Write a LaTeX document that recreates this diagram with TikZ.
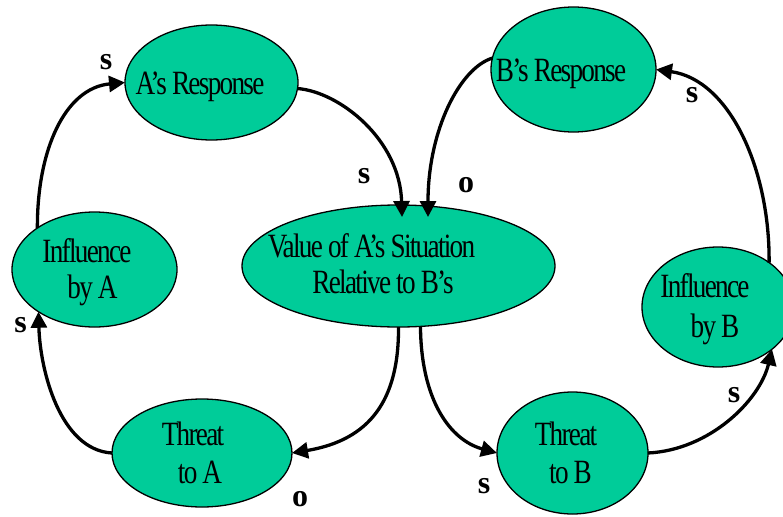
\documentclass[tikz,border=0pt]{standalone}
\usepackage{fontspec}
\usetikzlibrary{arrows.meta,shapes.geometric,calc}
\newfontfamily\nodefont[FakeStretch=0.8,LetterSpace=-5]{Liberation Serif}
\newfontfamily\labfont{Liberation Serif}
\definecolor{nodegreen}{RGB}{0,204,153}
\begin{document}
\begin{tikzpicture}[x=1pt,y=-1pt,
  blob/.style={ellipse,draw=black,line width=1.3pt,fill=nodegreen,inner sep=0pt,outer sep=0pt},
  txt/.style={anchor=base,inner sep=0pt,font=\nodefont\fontsize{34}{40}\selectfont},
  sign/.style={inner sep=0pt,font=\labfont\fontsize{32}{36}\selectfont\bfseries},
  link/.style={line width=3.3pt,-{Triangle[length=16pt,width=16pt]}}]
\useasboundingbox (0,0) rectangle (783,516);
\clip (0,0) rectangle (783,516);
% ellipses
\node[blob,minimum width=173pt,minimum height=115pt] (aresp) at (211.5,82.5) {};
\node[blob,minimum width=165pt,minimum height=125pt] (bresp) at (573.5,69.5) {};
\node[blob,minimum width=165pt,minimum height=115pt] (infA) at (94.5,269.5) {};
\node[blob,minimum width=313pt,minimum height=122pt] (val) at (398.5,266) {};
\node[blob,minimum width=180pt,minimum height=108pt] (thrA) at (202,453) {};
\node[blob,minimum width=151pt,minimum height=122pt] (thrB) at (572.5,453) {};
\node[blob,minimum width=152pt,minimum height=120pt] (infB) at (718,307) {};
% arrow tip points inside the value ellipse
\coordinate (v1) at ($(val.north)+(3.5,12)$);
\coordinate (v2) at ($(val.north)+(29.5,12)$);
% connectors
\draw[link] (infA.144) .. controls (37,150) and (65,88) .. (aresp.west);
\draw[link] (aresp.-4) .. controls (340,92) and (400,140) .. (v1);
\draw[link] (bresp.172) .. controls (460,68) and (428,130) .. (v2);
\draw[link] (infB.41) .. controls (770,170) and (730,80) .. (bresp.east);
\draw[link] (val.south) .. controls (399,400) and (370,440) .. (thrA.east);
\draw[link] (val.-70) .. controls (421,400) and (450,440) .. (thrB.west);
\draw[link] (thrA.west) .. controls (60,450) and (40,370) .. (infA.217);
\draw[link] (thrB.east) .. controls (710,450) and (760,400) .. (infB.-38);
% texts
\node[txt] (ta) at (200,95) {A’s Response};
\node[txt] (tb) at (561,82) {B’s Response};
\node[txt] (tia1) at (87,262) {Influence};
\node[txt] (tia2) at (92.5,298) {by A};
\node[txt] (tv1) at (371.5,257) {Value of A’s Situation};
\node[txt] (tv2) at (383,293) {Relative to B’s};
\node[txt] (tta1) at (193,445) {Threat};
\node[txt] (tta2) at (200,483) {to A};
\node[txt] (ttb1) at (566,445) {Threat};
\node[txt] (ttb2) at (570.5,483) {to B};
\node[txt] (tib1) at (705,297) {Influence};
\node[txt] (tib2) at (715,337) {by B};
% signs
\node[sign] (s1) at (106,62) {s};
\node[sign] (s2) at (364,176) {s};
\node[sign] (o1) at (466,185) {o};
\node[sign] (s3) at (692,95) {s};
\node[sign] (s4) at (20.5,325) {s};
\node[sign] (o2) at (300,499) {o};
\node[sign] (s5) at (484,486) {s};
\node[sign] (s6) at (734,395) {s};
\end{tikzpicture}
\end{document}
